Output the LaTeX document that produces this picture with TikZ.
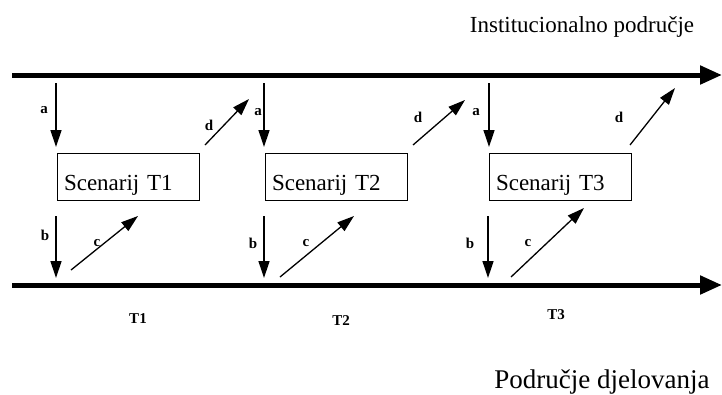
\documentclass[tikz,border=0pt]{standalone}
\usepackage{fontspec}
\setmainfont{Liberation Serif}
\usetikzlibrary{arrows.meta}
\begin{document}
\begin{tikzpicture}[x=1pt,y=-1pt,
  axisline/.style={line width=5pt,-{Triangle[length=22pt,width=18pt]}},
  flow/.style={line width=1.3pt,-{Triangle[length=17pt,width=11pt]}},
  scenbox/.style={draw,line width=0.9pt,inner ysep=0pt,inner xsep=7pt,text width=128pt,align=left,
    text height=37pt,text depth=10pt,font=\fontsize{23}{23}\selectfont},
  lbl/.style={font=\fontsize{15}{15}\selectfont\bfseries,inner sep=0pt},
  tlbl/.style={font=\fontsize{15}{15}\selectfont\bfseries,inner sep=0pt},
  title/.style={font=\fontsize{23}{23}\selectfont,inner sep=0pt,anchor=base}]
\useasboundingbox (0,0) rectangle (722,394);
% axes
\coordinate (topL) at (12,75);
\coordinate (topR) at (722,75);
\coordinate (botL) at (12,285);
\coordinate (botR) at (722,285);
\draw[axisline] (topL) -- (topR);
\draw[axisline] (botL) -- (botR);
\node[title] (inst) at (582,32) {Institucionalno područje};
\node[title,font=\fontsize{27}{27}\selectfont] (podr) at (602,388) {Područje djelovanja};
% boxes
\node[scenbox] (box1) at (128,176.5) {Scenarij T1};
\node[scenbox] (box2) at (336,176.5) {Scenarij T2};
\node[scenbox] (box3) at (560,176.5) {Scenarij T3};
% a arrows
\coordinate (a1s) at (56,83);  \coordinate (a1e) at (56,147);
\coordinate (a2s) at (264,83); \coordinate (a2e) at (264,147);
\coordinate (a3s) at (489,83); \coordinate (a3e) at (489,147);
\draw[flow] (a1s) -- (a1e);
\draw[flow] (a2s) -- (a2e);
\draw[flow] (a3s) -- (a3e);
\node[lbl] (la1) at (44,110) {a};
\node[lbl] (la2) at (258,112) {a};
\node[lbl] (la3) at (476,112) {a};
% d arrows
\coordinate (d1s) at (205,145); \coordinate (d1e) at (249,99);
\coordinate (d2s) at (413,145); \coordinate (d2e) at (465,100);
\coordinate (d3s) at (630,145); \coordinate (d3e) at (675,88);
\draw[flow] (d1s) -- (d1e);
\draw[flow] (d2s) -- (d2e);
\draw[flow] (d3s) -- (d3e);
\node[lbl] (ld1) at (209,125) {d};
\node[lbl] (ld2) at (418,117) {d};
\node[lbl] (ld3) at (619,117) {d};
% b arrows
\coordinate (b1s) at (56,216);  \coordinate (b1e) at (56,278);
\coordinate (b2s) at (264,216); \coordinate (b2e) at (264,278);
\coordinate (b3s) at (488,216); \coordinate (b3e) at (488,278);
\draw[flow] (b1s) -- (b1e);
\draw[flow] (b2s) -- (b2e);
\draw[flow] (b3s) -- (b3e);
\node[lbl] (lb1) at (45,235) {b};
\node[lbl] (lb2) at (253,243) {b};
\node[lbl] (lb3) at (470,243) {b};
% c arrows
\coordinate (c1s) at (71,270);  \coordinate (c1e) at (138,216);
\coordinate (c2s) at (280,277); \coordinate (c2e) at (354,216);
\coordinate (c3s) at (511,277); \coordinate (c3e) at (584,208);
\draw[flow] (c1s) -- (c1e);
\draw[flow] (c2s) -- (c2e);
\draw[flow] (c3s) -- (c3e);
\node[lbl] (lc1) at (97,243) {c};
\node[lbl] (lc2) at (306,243) {c};
\node[lbl] (lc3) at (528,243) {c};
% time labels
\node[tlbl] (t1) at (138,319) {T1};
\node[tlbl] (t2) at (341,321) {T2};
\node[tlbl] (t3) at (556,315) {T3};
\end{tikzpicture}
\end{document}
